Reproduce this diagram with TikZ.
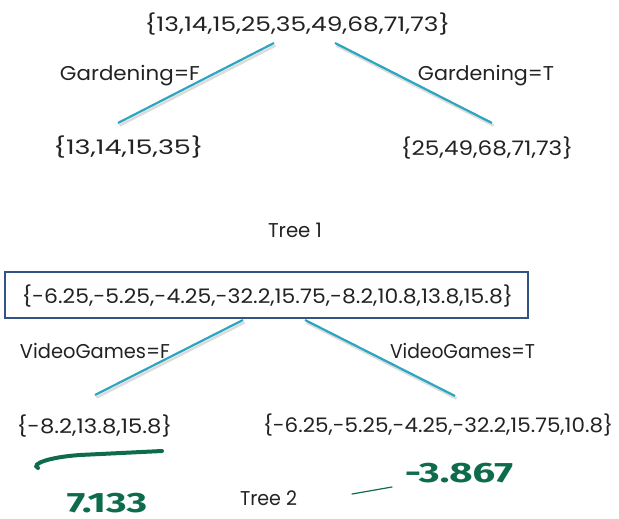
\documentclass[tikz,border=0pt]{standalone}
\usepackage{fontspec}
\usetikzlibrary{calc}
\setmainfont{Poppins}
\newfontfamily\handfont{Fira Sans}
\definecolor{teal1}{HTML}{2BA6C1}
\definecolor{boxblue}{HTML}{2F5485}
\definecolor{inkgreen}{HTML}{0E6B4C}
\definecolor{txt}{HTML}{222222}
\newcommand{\fitw}[2]{\resizebox{#1pt}{\height}{#2}}
\begin{document}
\begin{tikzpicture}[x=1pt,y=-1pt,
  lbl/.style={inner sep=0pt,anchor=base,text=txt,font=\fontsize{20}{24}\selectfont},
  edge/.style={draw=teal1,line width=2.2pt},
  shadow/.style={draw=black!30,line width=2.6pt,opacity=0.45},
  ink/.style={text=inkgreen,inner sep=0pt,font=\handfont\bfseries\fontsize{28}{30}\selectfont},
  inkline/.style={draw=inkgreen,line cap=round}]
\useasboundingbox (0,0) rectangle (619,519);
% Tree 1
\node[lbl] (r1) at (297.5,32) {\fitw{305}{\{13,14,15,25,35,49,68,71,73\}}};
\coordinate (r1l) at (274,43);
\coordinate (r1r) at (335,43);
\coordinate (l1) at (118,123);
\coordinate (t1) at (492,123);
\draw[shadow] ($(r1l)+(1.5,2.5)$) -- ($(l1)+(1.5,2.5)$);
\draw[shadow] ($(r1r)+(1.5,2.5)$) -- ($(t1)+(1.5,2.5)$);
\draw[edge] (r1l) -- (l1);
\draw[edge] (r1r) -- (t1);
\node[lbl] (gf) at (130,81) {\fitw{140}{Gardening=F}};
\node[lbl] (gt) at (486,81) {\fitw{136}{Gardening=T}};
\node[lbl] (n1l) at (128.5,155) {\fitw{150}{\{13,14,15,35\}}};
\node[lbl] (n1r) at (487,156) {\fitw{172}{\{25,49,68,71,73\}}};
\node[lbl] (tree1) at (295,237) {\fitw{54}{Tree 1}};
% Tree 2
\node[draw=boxblue,line width=2pt,minimum width=523pt,minimum height=46pt,inner sep=0pt] (box) at (266.5,295) {};
\node[lbl] (r2) at (267.5,303) {\fitw{491}{\{-6.25,-5.25,-4.25,-32.2,15.75,-8.2,10.8,13.8,15.8\}}};
\coordinate (r2l) at (243,320);
\coordinate (r2r) at (305,320);
\coordinate (l2) at (95,395);
\coordinate (t2) at (455,396);
\draw[shadow] ($(r2l)+(1.5,2.5)$) -- ($(l2)+(1.5,2.5)$);
\draw[shadow] ($(r2r)+(1.5,2.5)$) -- ($(t2)+(1.5,2.5)$);
\draw[edge] (r2l) -- (l2);
\draw[edge] (r2r) -- (t2);
\node[lbl] (vf) at (95,358) {\fitw{150}{VideoGames=F}};
\node[lbl] (vt) at (462.5,358) {\fitw{145}{VideoGames=T}};
\node[lbl] (n2l) at (94.5,433) {\fitw{155}{\{-8.2,13.8,15.8\}}};
\node[lbl] (n2r) at (438,432) {\fitw{350}{\{-6.25,-5.25,-4.25,-32.2,15.75,10.8\}}};
\node[lbl] (tree2) at (268.5,505) {\fitw{57}{Tree 2}};
% handwritten annotations
\coordinate (u1) at (38,468);
\coordinate (u2) at (162,451);
\draw[inkline,line width=4pt] (u1) .. controls (30,464) and (50,457) .. (80,455) -- (u2);
\coordinate (s1) at (352,494);
\coordinate (s2) at (392,487);
\draw[inkline,line width=1.2pt] (s1) -- (s2);
\node[ink,anchor=base] (v1) at (107,512) {\fitw{80}{7.133}};
\node[ink,anchor=base] (v2) at (459,482) {\fitw{108}{-3.867}};
\end{tikzpicture}
\end{document}
